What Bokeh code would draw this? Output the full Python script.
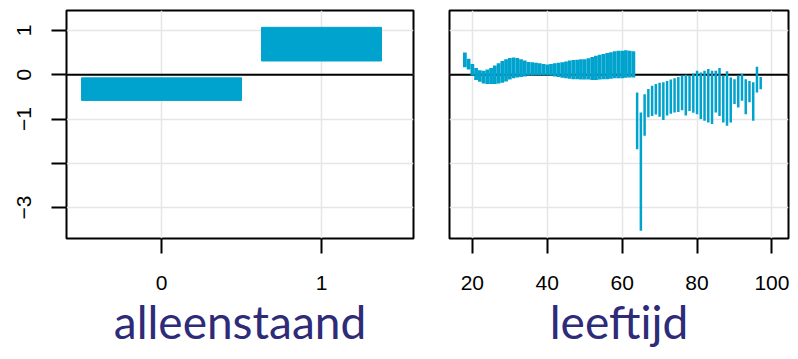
from bokeh.plotting import figure
from bokeh.layouts import row
from bokeh.models import Span, FixedTicker, Range1d
from bokeh.embed import file_html
from bokeh.resources import INLINE

# ---------------- data ----------------
# left panel: alleenstaand (0 / 1)
alleen_cat = [0, 1]
alleen_width = [1.0, 0.75]
alleen_low = [-0.58, 0.31]
alleen_high = [-0.07, 1.07]

# right panel: leeftijd, dense band ages 18-63
band_age = [18, 19, 20, 21, 22, 23, 24, 25, 26, 27, 28, 29, 30, 31, 32, 33,
            34, 35, 36, 37, 38, 39, 40, 41, 42, 43, 44, 45, 46, 47, 48, 49,
            50, 51, 52, 53, 54, 55, 56, 57, 58, 59, 60, 61, 62, 63]
band_high = [0.50, 0.36, 0.24, 0.15, 0.10, 0.09, 0.12, 0.15, 0.21, 0.26, 0.31,
             0.35, 0.38, 0.39, 0.38, 0.35, 0.32, 0.29, 0.28, 0.27, 0.26, 0.24,
             0.23, 0.24, 0.26, 0.27, 0.28, 0.30, 0.32, 0.33, 0.34, 0.35, 0.35,
             0.37, 0.40, 0.43, 0.45, 0.47, 0.49, 0.51, 0.53, 0.54, 0.54, 0.55,
             0.54, 0.53]
band_low = [0.17, 0.12, -0.02, -0.12, -0.16, -0.20, -0.21, -0.21, -0.21, -0.20,
            -0.18, -0.15, -0.11, -0.08, -0.06, -0.05, -0.04, -0.02, -0.02,
            -0.01, -0.01, -0.01, -0.01, -0.02, -0.04, -0.05, -0.07, -0.08,
            -0.09, -0.10, -0.10, -0.11, -0.11, -0.11, -0.12, -0.12, -0.11,
            -0.10, -0.10, -0.09, -0.08, -0.08, -0.08, -0.07, -0.06, -0.06]

# right panel: separate ranges ages 64-97
bar_age = [64, 65, 66, 67, 68, 69, 70, 71, 72, 73, 74, 75, 76, 77, 78, 79, 80,
           81, 82, 83, 84, 85, 86, 87, 88, 89, 90, 91, 92, 93, 94, 95, 96, 97]
bar_high = [-0.40, -0.85, -0.44, -0.32, -0.25, -0.21, -0.18, -0.17, -0.14,
            -0.11, -0.08, -0.05, -0.02, 0.00, -0.02, 0.03, 0.09, 0.05, 0.09,
            0.13, 0.09, 0.09, 0.15, -0.02, 0.08, -0.06, -0.10, -0.02, 0.02,
            -0.10, -0.14, -0.17, 0.18, -0.05]
bar_low = [-1.68, -3.52, -1.38, -0.96, -0.93, -0.90, -0.95, -1.02, -0.92,
           -0.88, -0.85, -0.84, -0.80, -0.92, -0.82, -0.86, -0.89, -1.00,
           -1.04, -1.08, -1.11, -0.85, -0.93, -1.08, -1.15, -1.08, -0.66,
           -0.74, -0.59, -0.89, -0.62, -1.04, -0.40, -0.33]

y_ticks = [-3, -2, -1, 0, 1]
y_tick_labels = {-3: "\u22123", -2: "", -1: "\u22121", 0: "0", 1: "1"}
x1_ticks = [0, 1]
x2_ticks = [20, 40, 60, 80, 100]

titles = ["alleenstaand", "leeftijd"]

# ---------------- style ----------------
BLUE = "#00A3CE"
NAVY = "#2E2B78"
GRID = "#E6E6E6"
TICK_FONT = "Liberation Sans Narrow, Liberation Sans"
TITLE_FONT = "Lato"

y_range = Range1d(-3.697, 1.45)


def style(p):
    p.outline_line_color = "black"
    p.outline_line_width = 2
    p.background_fill_color = "white"
    p.border_fill_color = "white"
    p.grid.grid_line_color = GRID
    p.grid.grid_line_width = 1.5
    for ax in p.axis:
        ax.axis_line_color = None
        ax.major_tick_in = 0
        ax.major_tick_out = 15
        ax.major_tick_line_width = 2
        ax.major_tick_line_color = "black"
        ax.minor_tick_line_color = None
        ax.major_label_text_font = TICK_FONT
        ax.major_label_text_font_size = "21px"
        ax.major_label_text_color = "black"
        ax.major_label_standoff = 22
        ax.axis_label_text_font = TITLE_FONT
        ax.axis_label_text_font_size = "46px"
        ax.axis_label_text_font_style = "normal"
        ax.axis_label_text_color = NAVY
        ax.axis_label_standoff = 1
    p.add_layout(Span(location=0, dimension="width", line_color="black",
                      line_width=2, level="underlay"))


# left panel
p1 = figure(width=431, height=351, x_range=Range1d(-0.594, 1.575),
            y_range=y_range, output_backend="svg", toolbar_location=None,
            min_border_left=66, min_border_right=18, min_border_top=10,
            min_border_bottom=113)
p1.vbar(x=alleen_cat, width=alleen_width, bottom=alleen_low, top=alleen_high,
        fill_color=BLUE, line_color=BLUE)
p1.xaxis.ticker = FixedTicker(ticks=x1_ticks)
p1.yaxis.ticker = FixedTicker(ticks=y_ticks)
p1.yaxis.major_label_overrides = y_tick_labels
p1.yaxis.major_label_orientation = "vertical"
p1.xaxis.axis_label = titles[0]
style(p1)
p1.yaxis.major_label_standoff = 20

# right panel
p2 = figure(width=359, height=351, x_range=Range1d(13.9, 104.42),
            y_range=y_range, output_backend="svg", toolbar_location=None,
            min_border_left=18, min_border_right=2, min_border_top=10,
            min_border_bottom=113)
p2.vbar(x=band_age, width=1, bottom=band_low, top=band_high,
        fill_color=BLUE, line_color=None)
p2.segment(x0=bar_age, x1=bar_age, y0=bar_low, y1=bar_high,
           line_color=BLUE, line_width=2.5)
p2.xaxis.ticker = FixedTicker(ticks=x2_ticks)
p2.yaxis.visible = False
p2.ygrid.ticker = FixedTicker(ticks=y_ticks)
p2.xaxis.axis_label = titles[1]
style(p2)

layout = row(p1, p2)
open("out.html", "w").write(file_html(layout, INLINE))
